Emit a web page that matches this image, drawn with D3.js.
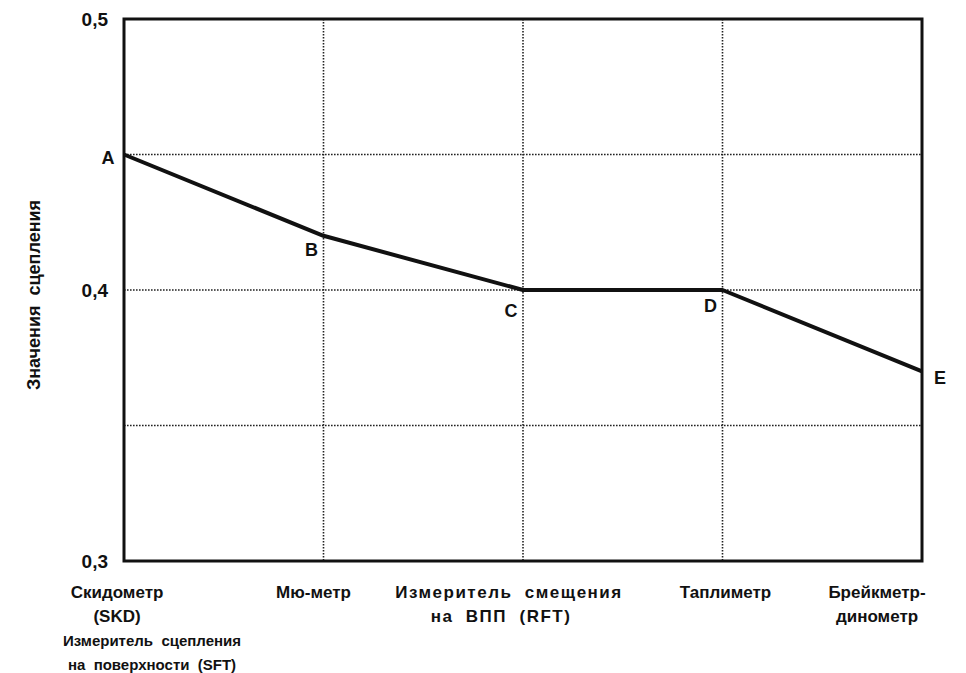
<!DOCTYPE html>
<html>
<head>
<meta charset="utf-8">
<script src="https://cdn.jsdelivr.net/npm/d3@7"></script>
<style>
  body { margin: 0; background: #fff; }
  text { font-family: "Liberation Sans", Arial, sans-serif; font-weight: bold; fill: #111; white-space: pre; }
</style>
</head>
<body>
<div id="chart"></div>
<script>
// data
var devices = ["Скидометр", "Мю-метр", "Измеритель смещения", "Таплиметр", "Брейкметр-"];
var pointNames = ["A", "B", "C", "D", "E"];
var frictionValues = [0.45, 0.42, 0.40, 0.40, 0.37];
var yTicks = [0.3, 0.4, 0.5];
var yGrid = [0.35, 0.4, 0.45];
var deviceLabels = [
  ["Скидометр", "(SKD)"],
  ["Мю-метр"],
  ["Измеритель  смещения", "на  ВПП  (RFT)"],
  ["Таплиметр"],
  ["Брейкметр-", "динометр"]
];
var extraLabel = ["Измеритель  сцепления", "на  поверхности  (SFT)"];
var yTitle = "Значения  сцепления";

var svgWidth = 966, svgHeight = 673;
var margin = { top: 19, right: 44, bottom: 112, left: 124 };
var width = svgWidth - margin.left - margin.right;
var height = svgHeight - margin.top - margin.bottom;

var svg = d3.select("#chart").append("svg")
  .attr("width", svgWidth)
  .attr("height", svgHeight);

var chartGroup = svg.append("g")
  .attr("transform", `translate(${margin.left}, ${margin.top})`);

var xScale = d3.scalePoint().domain(devices).range([0, width]);
var yScale = d3.scaleLinear().domain([0.3, 0.5]).range([height, 0]);

// dotted grid
chartGroup.selectAll(".hgrid").data(yGrid).enter()
  .append("line")
  .attr("x1", 0).attr("x2", width)
  .attr("y1", d => yScale(d)).attr("y2", d => yScale(d))
  .attr("stroke", "#222").attr("stroke-width", 1.6)
  .attr("stroke-dasharray", "1.6,1.4");

chartGroup.selectAll(".vgrid").data(devices.slice(1, -1)).enter()
  .append("line")
  .attr("x1", d => xScale(d)).attr("x2", d => xScale(d))
  .attr("y1", 0).attr("y2", height)
  .attr("stroke", "#222").attr("stroke-width", 1.6)
  .attr("stroke-dasharray", "1.6,1.4");

// frame
chartGroup.append("rect")
  .attr("x", 0).attr("y", 0)
  .attr("width", width).attr("height", height)
  .attr("fill", "none").attr("stroke", "#111").attr("stroke-width", 3);

// y axis labels
var leftAxis = d3.axisLeft(yScale).tickValues(yTicks).tickSize(0).tickPadding(16)
  .tickFormat(d => d3.format(".1f")(d).replace(".", ","));
var yAxisG = chartGroup.append("g").call(leftAxis);
yAxisG.select(".domain").remove();
yAxisG.selectAll("text")
  .attr("font-size", 19)
  .attr("font-family", "Liberation Sans, Arial, sans-serif")
  .attr("font-weight", "bold")
  .attr("fill", "#111");

// the line
var line = d3.line()
  .x((d, i) => xScale(devices[i]))
  .y(d => yScale(d));

chartGroup.append("path")
  .datum(frictionValues)
  .attr("d", line)
  .attr("fill", "none")
  .attr("stroke", "#111")
  .attr("stroke-width", 4)
  .attr("stroke-linejoin", "round");

// point letters
var letterOffsets = [[-16, 9], [-12, 20], [-12, 27], [-12, 22], [18, 13]];
chartGroup.selectAll(".pt").data(frictionValues).enter()
  .append("text")
  .attr("x", (d, i) => xScale(devices[i]) + letterOffsets[i][0])
  .attr("y", (d, i) => yScale(d) + letterOffsets[i][1])
  .attr("text-anchor", "middle")
  .attr("font-size", 18)
  .text((d, i) => pointNames[i]);

// category labels
var catDx = [-7, -10, -14, 3, -45];
deviceLabels.forEach(function (lines, i) {
  lines.forEach(function (t, j) {
    chartGroup.append("text")
      .attr("x", xScale(devices[i]) + catDx[i] + (i === 2 && j === 1 ? -8 : 0))
      .attr("y", height + 37 + j * 24)
      .attr("text-anchor", "middle")
      .attr("font-size", 17)
      .attr("letter-spacing", i === 2 ? 1.5 : 0)
      .text(t);
  });
});
extraLabel.forEach(function (t, j) {
  chartGroup.append("text")
    .attr("x", xScale(devices[0]) + 28)
    .attr("y", height + 37 + (j + 2) * 24)
    .attr("text-anchor", "middle")
    .attr("font-size", 15)
    .text(t);
});

// y title
chartGroup.append("text")
  .attr("transform", "rotate(-90)")
  .attr("x", -(yScale(0.4) + 5))
  .attr("y", -margin.left + 40)
  .attr("text-anchor", "middle")
  .attr("font-size", 18)
  .text(yTitle);
</script>
</body>
</html>
